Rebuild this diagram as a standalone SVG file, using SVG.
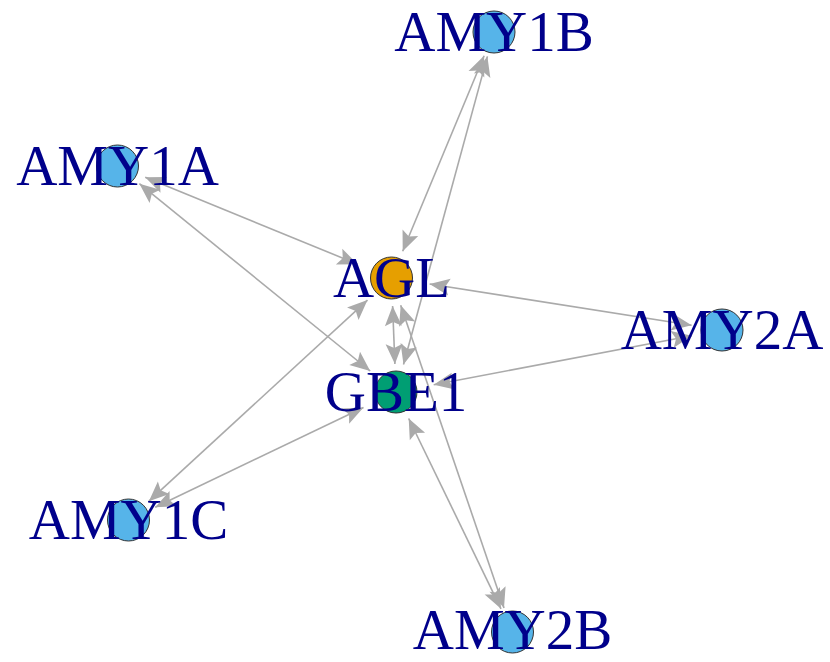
<svg xmlns="http://www.w3.org/2000/svg" width="830" height="662" viewBox="0 0 830 662">
<style>
.e{stroke:#AAAAAA;stroke-width:1.6;fill:none;marker-start:url(#ah);marker-end:url(#ah)}
.n{stroke:#333333;stroke-width:1}
.p{fill:#56B4E9}
.l{font-family:"Liberation Serif","Times New Roman",serif;font-size:57px;fill:#00008B;text-anchor:middle}
</style>
<defs>
<marker id="ah" markerUnits="userSpaceOnUse" viewBox="-21 -9 22 18" markerWidth="22" markerHeight="18" refX="0" refY="0" orient="auto-start-reverse">
<path d="M0,0 L-20,-8.5 L-16,0 L-20,8.5 Z" fill="#AAAAAA"/>
</marker>
</defs>
<rect width="830" height="662" fill="#FFFFFF"/>
<g id="edges">
<line class="e" x1="357.6" y1="264.2" x2="145.2" y2="177.3"/>
<line class="e" x1="402.7" y1="251.2" x2="484.1" y2="55.7"/>
<line class="e" x1="367.5" y1="300.1" x2="148.9" y2="501.2"/>
<line class="e" x1="429.6" y1="284.0" x2="691.6" y2="325.2"/>
<line class="e" x1="400.7" y1="305.2" x2="504.0" y2="608.0"/>
<line class="e" x1="392.6" y1="306.0" x2="394.9" y2="364.0"/>
<line class="e" x1="370.2" y1="371.0" x2="139.4" y2="183.7"/>
<line class="e" x1="403.5" y1="364.5" x2="487.4" y2="56.4"/>
<line class="e" x1="363.5" y1="407.5" x2="155.2" y2="507.2"/>
<line class="e" x1="433.7" y1="384.8" x2="691.8" y2="335.7"/>
<line class="e" x1="408.7" y1="418.5" x2="501.0" y2="608.8"/>
</g>
<g id="AMY1B"><circle class="n p" cx="494" cy="32" r="21"/><text class="l" x="494" y="51">AMY1B</text></g>
<g id="AMY1A"><circle class="n p" cx="117.5" cy="166" r="21"/><text class="l" x="117.5" y="185">AMY1A</text></g>
<g id="AMY2A"><circle class="n p" cx="722" cy="330" r="21"/><text class="l" x="722" y="349">AMY2A</text></g>
<g id="AMY1C"><circle class="n p" cx="128.5" cy="520" r="21"/><text class="l" x="128.5" y="539">AMY1C</text></g>
<g id="AMY2B"><circle class="n p" cx="512.5" cy="632" r="21"/><text class="l" x="512.5" y="649">AMY2B</text></g>
<g id="AGL"><circle class="n" cx="391.5" cy="278" r="21" fill="#E69F00"/><text class="l" x="391.5" y="297">AGL</text></g>
<g id="GBE1"><circle class="n" cx="396" cy="392" r="21" fill="#009E73"/><text class="l" x="396" y="411">GBE1</text></g>
</svg>
